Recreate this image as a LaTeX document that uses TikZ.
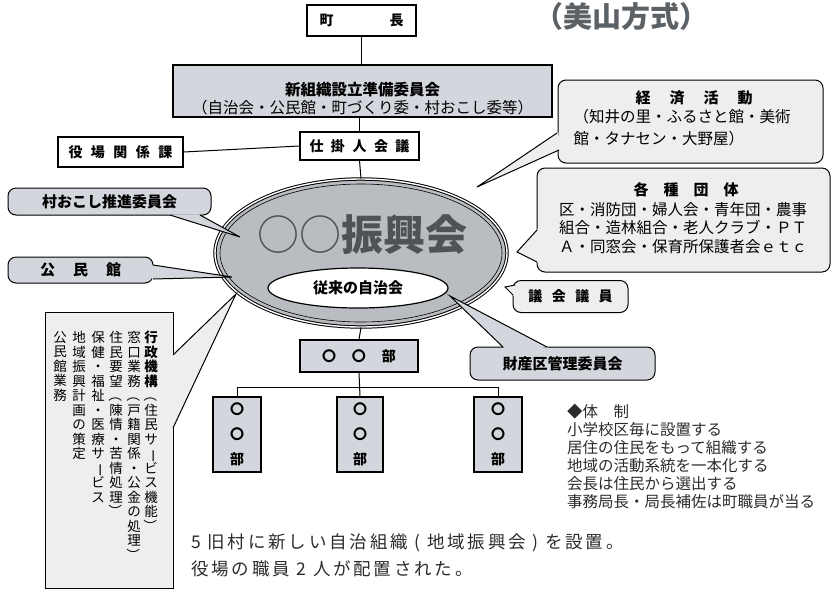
\documentclass[tikz,border=0pt]{standalone}
\usepackage{fontspec}
\setmainfont{Noto Sans CJK JP}
\usetikzlibrary{shapes.geometric,calc}
\definecolor{boxgray}{HTML}{D3D6DC}
\definecolor{ballgray}{HTML}{B9BCC1}
\definecolor{paper}{HTML}{EEEEEE}
\definecolor{titlegray}{HTML}{5C6166}
\definecolor{inkgray}{HTML}{4E5358}
\definecolor{sumi}{HTML}{2B2B2B}
\newcommand{\moji}[1]{\fontsize{#1}{#1}\selectfont}
\newcommand{\tatemoji}[1]{\rotatebox[origin=c]{-90}{#1}}
\makeatletter
\newcommand{\tategaki}[1]{\vbox{\baselineskip=14.5pt\lineskiplimit=-100pt\lineskip=0pt
  \@tfor\tatechar:=#1\do{\hbox to 1em{\hss\tatechar\hss}}}}
\makeatother
% fukidashi no kuchi: base1, base2, tip, fill
\newcommand{\kuchi}[4]{
  \fill[#4] ($(#1)!-1.5pt!(#3)$) -- (#3) -- ($(#2)!-1.5pt!(#3)$) -- cycle;
  \draw[kuchisen] (#1) -- (#3) -- (#2);
}
\tikzset{
  hako/.style={draw, line width=1.2pt, inner sep=0pt, font=\moji{14}\bfseries},
  fuki/.style={draw, line width=1pt, rounded corners=8pt, inner sep=0pt, font=\moji{15}\bfseries},
  kuchisen/.style={line width=1pt},
  sen/.style={line width=1pt},
  tatecol/.style={anchor=north, inner sep=0pt, font=\moji{13.5}},
}

\begin{document}
\begin{tikzpicture}[x=1pt,y=-1pt]
\useasboundingbox (0,0) rectangle (834,590);

% ue no soshiki
\node[hako, fill=white, minimum width=109pt, minimum height=31pt] (chou) at (361.5,20.5) {町\hspace{56pt}長};
\node[font=\moji{29}\bfseries, text=titlegray] (houshiki) at (621,16) {（美山方式）};
\node[hako, fill=boxgray, minimum width=379pt, minimum height=52pt] (junbi) at (362.5,91) {};
\node[align=center, font=\fontsize{15.5}{18}\selectfont] (junbitext) at (362.5,99) {{\bfseries 新組織設立準備委員会}\\（自治会・公民館・町づくり委・村おこし委等）};
\node[hako, fill=white, minimum width=119pt, minimum height=28pt] (shikake) at (359.5,146) {仕\hspace{7.5pt}掛\hspace{7.5pt}人\hspace{7.5pt}会\hspace{7.5pt}議};
\node[hako, fill=white, minimum width=125pt, minimum height=30pt] (yakuba) at (120.5,152) {役\hspace{8.5pt}場\hspace{8.5pt}関\hspace{8.5pt}係\hspace{8.5pt}課};

\draw[sen] (chou.south) -- (chou.south |- junbi.north);
\draw[sen] (shikake.north |- junbi.south) -- (shikake.north);
\draw[sen] (yakuba.east) -- (shikake.west);

% shinkoukai
\node[ellipse, draw, line width=1pt, double=white, double distance=1.4pt, fill=ballgray,
  minimum width=292pt, minimum height=148pt] (shinkou) at (361,253) {};
\draw[line width=0.6pt] (shinkou.center) ellipse [x radius=141pt, y radius=69pt];
\draw[sen] (shikake.south) -- (shinkou.north);
\node[font=\moji{42}\bfseries, text=inkgray] (shinkoutext) at (362,235) {{\mdseries ○○}振興会};
\node[ellipse, draw, line width=1.2pt, fill=white, minimum width=180pt, minimum height=40pt,
  font=\moji{15}\bfseries] (juurai) at (358,288) {従来の自治会};

% bu
\node[hako, fill=boxgray, minimum width=118pt, minimum height=32pt] (bu) at (359,356) {〇\hspace{16pt}〇\hspace{16pt}部};
\node[hako, fill=boxgray, minimum width=48pt, minimum height=75pt, align=center,
  font=\fontsize{14}{25}\selectfont\bfseries] (bu1) at (237,434.5) {〇\\〇\\部};
\node[hako, fill=boxgray, minimum width=46pt, minimum height=75pt, align=center,
  font=\fontsize{14}{25}\selectfont\bfseries] (bu2) at (360,434.5) {〇\\〇\\部};
\node[hako, fill=boxgray, minimum width=48pt, minimum height=75pt, align=center,
  font=\fontsize{14}{25}\selectfont\bfseries] (bu3) at (498,434.5) {〇\\〇\\部};
\coordinate (eda) at (360,387);
\draw[sen] (shinkou.south) -- (bu.north);
\draw[sen] (bu.south) -- (bu2.north);
\draw[sen] (bu1.north) |- (bu3.north |- eda) -- (bu3.north);

% hidari no fukidashi
\node[fuki, fill=boxgray, minimum width=203pt, minimum height=27pt] (murakoshi) at (109.5,201.5) {村おこし推進委員会};
\coordinate (murakoshi-a) at (170,215);
\coordinate (murakoshi-b) at (200,215);
\coordinate (murakoshi-tip) at (240,237);
\kuchi{murakoshi-a}{murakoshi-b}{murakoshi-tip}{boxgray}

\node[fuki, fill=boxgray, minimum width=145pt, minimum height=26pt] (kouminkan) at (80.5,270) {公\hspace{18pt}民\hspace{18pt}館};
\coordinate (kouminkan-a) at (153,265);
\coordinate (kouminkan-b) at (153,279);
\coordinate (kouminkan-tip) at (232,277);
\kuchi{kouminkan-a}{kouminkan-b}{kouminkan-tip}{boxgray}

\node[draw, line width=1pt, fill=paper, inner sep=0pt, minimum width=128pt, minimum height=276pt] (gyousei) at (109,450) {};
\coordinate (gyousei-a) at (173,355);
\coordinate (gyousei-b) at (173,428);
\coordinate (gyousei-tip) at (236,294);
\kuchi{gyousei-a}{gyousei-b}{gyousei-tip}{paper}
\node[tatecol] (gyousei1) at (151,331) {\tategaki{{\bfseries 行}{\bfseries 政}{\bfseries 機}{\bfseries 構}{\tatemoji{（}}住民サ{\tatemoji{ー}}ビス機能{\tatemoji{）}}}};
\node[tatecol] (gyousei2) at (134,331) {\tategaki{窓口業務{\tatemoji{（}}戸籍関係・公金の処理{\tatemoji{）}}}};
\node[tatecol] (gyousei3) at (116,331) {\tategaki{住民要望{\tatemoji{（}}陳情・苦情処理{\tatemoji{）}}}};
\node[tatecol] (gyousei4) at (98,331) {\tategaki{保健・福祉・医療サ{\tatemoji{ー}}ビス}};
\node[tatecol] (gyousei5) at (79,331) {\tategaki{地域振興計画の策定}};
\node[tatecol] (gyousei6) at (60,331) {\tategaki{公民館業務}};

% migi no fukidashi
\node[fuki, fill=paper, minimum width=265pt, minimum height=83pt] (keizai) at (690.5,121.5) {};
\coordinate (keizai-a) at (557,133);
\coordinate (keizai-b) at (559,150);
\coordinate (keizai-tip) at (477,187);
\kuchi{keizai-a}{keizai-b}{keizai-tip}{paper}
\node[font=\moji{15}\bfseries] (keizaititle) at (694,98) {経\hspace{19pt}済\hspace{19pt}活\hspace{19pt}動};
\node[anchor=west, align=left, font=\fontsize{15.5}{22}\selectfont] (keizaibody) at (570,128) {（知井の里・ふるさと館・美術\\館・タナセン・大野屋）};

\node[fuki, fill=paper, minimum width=293pt, minimum height=104pt] (kakushu) at (683.5,220) {};
\coordinate (kakushu-a) at (537,230);
\coordinate (kakushu-b) at (537,262);
\coordinate (kakushu-tip) at (517,252);
\kuchi{kakushu-a}{kakushu-b}{kakushu-tip}{paper}
\node[font=\moji{15}\bfseries] (kakushutitle) at (686,190) {各\hspace{15pt}種\hspace{15pt}団\hspace{15pt}体};
\node[align=center, font=\fontsize{15.5}{18.5}\selectfont] (kakushubody) at (683,228) {区・消防団・婦人会・青年団・農事\\組合・造林組合・老人クラブ・ＰＴ\\Ａ・同窓会・保育所保護者会ｅｔｃ};

\node[fuki, fill=paper, minimum width=115pt, minimum height=32pt, font=\moji{14}\bfseries] (gikai) at (570.5,296.5) {議\hspace{9.5pt}会\hspace{9.5pt}議\hspace{9.5pt}員};
\coordinate (gikai-a) at (515,285);
\coordinate (gikai-b) at (513,295);
\coordinate (gikai-tip) at (505,287);
\kuchi{gikai-a}{gikai-b}{gikai-tip}{paper}

\node[fuki, fill=boxgray, minimum width=185pt, minimum height=33pt] (zaisan) at (562.5,363.5) {財産区管理委員会};
\coordinate (zaisan-a) at (503,347);
\coordinate (zaisan-b) at (547,347);
\coordinate (zaisan-tip) at (450,296);
\kuchi{zaisan-a}{zaisan-b}{zaisan-tip}{boxgray}

% setsumei
\node[anchor=north west, align=left, inner sep=0pt, font=\fontsize{15.5}{18}\selectfont, text=sumi] (taisei) at (567,404) {◆体　制\\小学校区毎に設置する\\居住の住民をもって組織する\\地域の活動系統を一本化する\\会長は住民から選出する\\事務局長・局長補佐は町職員が当る};
\node[anchor=west, inner sep=0pt, font=\moji{17.5}\addfontfeature{LetterSpace=16}, text=sumi] (setsumei1) at (191,543) {5 旧村に新しい自治組織 ( 地域振興会 ) を設置。};
\node[anchor=west, inner sep=0pt, font=\moji{17.5}\addfontfeature{LetterSpace=16}, text=sumi] (setsumei2) at (191,569) {役場の職員 2 人が配置された。};

\end{tikzpicture}
\end{document}
